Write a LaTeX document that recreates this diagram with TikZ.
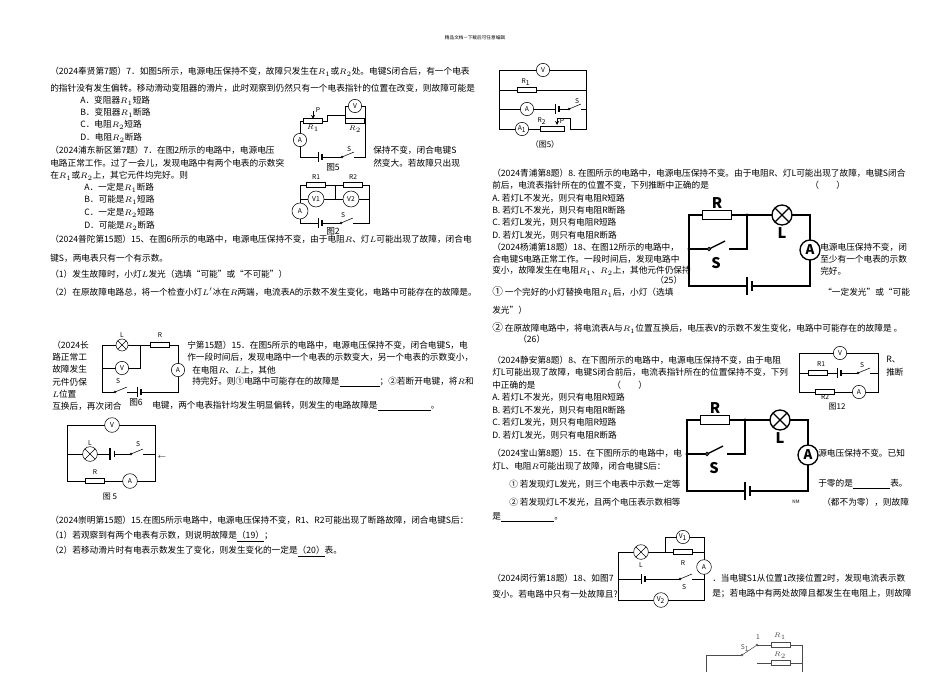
\documentclass[tikz,border=0pt]{standalone}
\usepackage{fontspec}
\setmainfont{Noto Sans CJK SC}
\newfontfamily\cn{Noto Sans CJK SC}
\tikzset{
 txt/.style={anchor=west,inner sep=0pt,font=\fontsize{6.5pt}{7pt}\selectfont},
 lab/.style={inner sep=0pt,font=\fontsize{5pt}{6pt}\selectfont},
 meter/.style={circle,draw,fill=white,inner sep=0pt,minimum size=10pt,font=\fontsize{5pt}{6pt}\selectfont},
 bmeter/.style={circle,draw,line width=1pt,fill=white,inner sep=0pt,minimum size=15pt,font=\bfseries\fontsize{10pt}{10pt}\selectfont},
 res/.style={draw,fill=white,inner sep=0pt,minimum width=14pt,minimum height=4pt},
 bres/.style={draw,line width=1pt,fill=white,inner sep=0pt,minimum width=22pt,minimum height=6.5pt},
 lamp/.style={circle,draw,fill=white,inner sep=0pt,minimum size=#1,path picture={\draw (path picture bounding box.north west)--(path picture bounding box.south east) (path picture bounding box.north east)--(path picture bounding box.south west);}},
 wire/.style={line width=0.5pt},
}
\newcommand\battH[2]{\fill[white] (#1-2,#2-1) rectangle (#1+2,#2+1);
 \draw (#1-2,#2-5)--(#1-2,#2+5); \draw[line width=1.2pt] (#1+2,#2-3)--(#1+2,#2+3);}
\newcommand\swH[2]{\fill[white] (#1-6,#2-1) rectangle (#1+6,#2+1);
 \draw[fill=white] (#1-6,#2) circle (0.9); \draw (#1-6,#2)--(#1+6,#2-5);}
\newcommand\bigckt{%
 \draw[line width=1pt] (689,286)--(689,215)--(810,215)--(810,286)--cycle;
 \draw[line width=1pt] (689,249)--(709,249) (729,249)--(747,249)--(747,215);
 \fill[white] (709,247) rectangle (729,251);
 \draw[line width=1pt] (709,249)--(725,241);
 \draw[line width=0.8pt,fill=white] (709,249) circle (1.6);
 \fill (689,249) circle (1.7) (747,215) circle (1.7);
 \node[bres] at (717,215) {};
 \node[font=\bfseries\itshape\fontsize{11pt}{11pt}\selectfont] at (717,203) {R};
 \node[lamp=15pt,line width=1pt] at (782,215) {};
 \node[font=\bfseries\fontsize{11pt}{11pt}\selectfont] at (782,233) {L};
 \node[font=\bfseries\fontsize{11pt}{11pt}\selectfont] at (716,263) {S};
 \node[bmeter] at (810,250) {A};
 \fill[white] (747,284) rectangle (753,288);
 \draw[line width=1pt] (747,277)--(747,295); \draw[line width=2pt] (752,281)--(752,291);}
\begin{document}
\begin{tikzpicture}[x=0.75pt,y=-0.75pt]
\useasboundingbox[fill=white] (0,0) rectangle (950,672);
% header
\node[lab,font=\fontsize{3.5pt}{4pt}\selectfont] at (475,38) {精品文档---下载后可任意编辑};
% ---------------- left column text
\node[txt] at (50,72) {（2024奉贤第7题）7．如图5所示，电源电压保持不变，故障只发生在$R_1$或$R_2$处。电键S闭合后，有一个电表};
\node[txt] at (50,88) {的指针没有发生偏转。移动滑动变阻器的滑片，此时观察到仍然只有一个电表指针的位置在改变，则故障可能是};
\node[txt] at (80,101) {A．变阻器$R_1$短路};
\node[txt] at (80,113) {B．变阻器$R_1$断路};
\node[txt] at (80,125) {C．电阻$R_2$短路};
\node[txt] at (80,138) {D．电阻$R_2$断路};
\node[txt] at (50,150) {（2024浦东新区第7题）7．在图2所示的电路中，电源电压};
\node[txt] at (373,150) {保持不变，闭合电键S};
\node[txt] at (50,163) {电路正常工作。过了一会儿，发现电路中有两个电表的示数突};
\node[txt] at (373,163) {然变大。若故障只出现};
\node[txt] at (50,176) {在$R_1$或$R_2$上，其它元件均完好。则};
\node[txt] at (84,188) {A．一定是$R_1$断路};
\node[txt] at (84,200) {B．可能是$R_1$短路};
\node[txt] at (84,213) {C．一定是$R_2$短路};
\node[txt] at (84,226) {D．可能是$R_2$断路};
\node[txt] at (50,239) {（2024普陀第15题）15、在图6所示的电路中，电源电压保持不变，由于电阻$R$、灯$L$可能出现了故障，闭合电};
\node[txt] at (50,258) {键S，两电表只有一个有示数。};
\node[txt] at (50,274) {（1）发生故障时，小灯$L$发光（选填“可能”或“不可能”）};
\node[txt] at (50,292) {（2）在原故障电路总，将一个检查小灯$L'$冰在$R$两端，电流表A的示数不发生变化，电路中可能存在的故障是。};
\node[txt] at (52,345) {（2024长};
\node[txt] at (52,357) {路正常工};
\node[txt] at (52,369) {故障发生};
\node[txt] at (52,382) {元件仍保};
\node[txt] at (52,394) {$L$位置};
\node[txt] at (52,406) {互换后，再次闭合};
\node[txt] at (187,345) {宁第15题）15．在图5所示的电路中，电源电压保持不变，闭合电键S，电};
\node[txt] at (187,357) {作一段时间后，发现电路中一个电表的示数变大，另一个电表的示数变小，};
\node[txt] at (192,370) {在电阻$R$、$L$上，其他};
\node[txt] at (192,382) {持完好。则①电路中可能存在的故障是\underline{\hspace{30pt}}；②若断开电键，将$R$和};
\node[txt] at (152,406) {电键，两个电表指针均发生明显偏转，则发生的电路故障是\underline{\hspace{40pt}}。};
\node[txt] at (50,520) {（2024崇明第15题）15.在图5所示电路中，电源电压保持不变，R1、R2可能出现了断路故障，闭合电键S后：};
\node[txt] at (50,537) {（1）若观察到有两个电表有示数，则说明故障是\underline{（19）}；};
\node[txt] at (50,552) {（2）若移动滑片时有电表示数发生了变化，则发生变化的一定是\underline{（20）}表。};
% ---------------- right column text
\node[txt] at (492,173) {（2024青浦第8题）8. 在图所示的电路中，电源电压保持不变。由于电阻R、灯L可能出现了故障，电键S闭合};
\node[txt] at (492,185) {前后，电流表指针所在的位置不变，下列推断中正确的是};
\node[txt] at (810,185) {（\qquad）};
\node[txt] at (492,198) {A. 若灯L不发光，则只有电阻R短路};
\node[txt] at (492,210) {B. 若灯L不发光，则只有电阻R断路};
\node[txt] at (492,222) {C. 若灯L发光，则只有电阻R短路};
\node[txt] at (492,235) {D. 若灯L发光，则只有电阻R断路};
\node[txt] at (492,247) {（2024杨浦第18题）18、在图12所示的电路中，};
\node[txt] at (820,247) {电源电压保持不变，闭};
\node[txt] at (492,259) {合电键S电路正常工作。一段时间后，发现电路中};
\node[txt] at (820,259) {至少有一个电表的示数};
\node[txt] at (492,271) {变小，故障发生在电阻$R_1$、$R_2$上，其他元件仍保持};
\node[txt] at (820,271) {完好。};
\node[txt] at (655,280) {（25）};
\node[txt] at (492,292) {\fontsize{8pt}{8pt}\selectfont ①\fontsize{6.5pt}{7pt}\selectfont\ 一个完好的小灯替换电阻$R_1$后，小灯（选填};
\node[txt] at (823,292) {“一定发光”或“可能};
\node[txt] at (492,310) {发光”）};
\node[txt] at (492,328) {\fontsize{8pt}{8pt}\selectfont ②\fontsize{6.5pt}{7pt}\selectfont\ 在原故障电路中，将电流表A与$R_1$位置互换后，电压表V的示数不发生变化，电路中可能存在的故障是 。};
\node[txt] at (518,339) {（26）};
\node[txt] at (492,360) {（2024静安第8题）8、在下图所示的电路中，电源电压保持不变，由于电阻};
\node[txt] at (886,360) {R、};
\node[txt] at (492,372) {灯L可能出现了故障，电键S闭合前后，电流表指针所在的位置保持不变，下列};
\node[txt] at (886,372) {推断};
\node[txt] at (492,385) {中正确的是};
\node[txt] at (612,385) {（\qquad）};
\node[txt] at (492,397) {A. 若灯L不发光，则只有电阻R短路};
\node[txt] at (492,410) {B. 若灯L不发光，则只有电阻R断路};
\node[txt] at (492,422) {C. 若灯L发光，则只有电阻R短路};
\node[txt] at (492,435) {D. 若灯L发光，则只有电阻R断路};
\node[txt] at (492,453) {（2024宝山第8题）15．在下图所示的电路中，电};
\node[txt] at (818,453) {源电压保持不变。已知};
\node[txt] at (492,466) {灯L、电阻$R$可能出现了故障，闭合电键S后：};
\node[txt] at (509,484) {①\ 若发现灯L发光，则三个电表中示数一定等};
\node[txt] at (818,484) {于零的是\underline{\hspace{28pt}}表。};
\node[txt] at (509,502) {②\ 若发现灯L不发光，且两个电压表示数相等};
\node[lab,font=\fontsize{3.5pt}{4pt}\selectfont] at (796,502) {NM};
\node[txt] at (822,502) {（都不为零），则故障};
\node[txt] at (492,517) {是\underline{\hspace{40pt}}。};
\node[txt] at (492,578) {（2024闵行第18题）18、如图7};
\node[txt] at (712,578) {．当电键S1从位置1改接位置2时，发现电流表示数};
\node[txt] at (492,594) {变小。若电路中只有一处故障且?};
\node[txt] at (712,594) {是；若电路中有两处故障且都发生在电阻上，则故障};
% ---------------- Fig 5 (top left)
\draw (300,157)--(300,121)--(327,121)--(327,115)--(345,115)--(345,106)--(365,106)--(365,157)--cycle;
\draw (345,115)--(345,121)--(365,121);
\node[meter] at (300,140) {A};
\node[res] at (313,121) {};
\draw[-stealth] (313,111)--(313,119);
\node[lab] at (318,110) {P};
\node[lab] at (313,128) {$R_1$};
\node[res] at (355,121) {};
\node[lab] at (355,129) {$R_2$};
\node[meter] at (355,106) {V};
\battH{320}{157} \swH{348}{157}
\node[lab] at (349,149) {S};
\node[lab,font=\fontsize{6.5pt}{7pt}\selectfont] at (333,167) {图5};
% ---------------- Fig 2
\draw (300,223)--(300,185)--(369,185)--(369,223)--cycle;
\draw (300,199)--(369,199) (335,185)--(335,199);
\node[res] at (316,185) {}; \node[lab] at (316,177) {R1};
\node[res] at (353,185) {}; \node[lab] at (353,177) {R2};
\node[meter,minimum size=12pt] at (316,199) {V1};
\node[meter,minimum size=12pt] at (351,199) {V2};
\node[meter,minimum size=12pt] at (300,211) {A};
\battH{320}{223} \swH{347}{223}
\node[lab] at (343,215) {S};
\node[lab,font=\fontsize{6.5pt}{7pt}\selectfont] at (333,231) {图2};
% ---------------- Fig 6
\draw (102,392)--(102,345)--(178,345)--(178,392)--cycle;
\draw (102,368)--(140,368)--(140,345);
\node[lamp=9pt] at (122,345) {}; \node[lab] at (122,335) {L};
\node[res] at (160,345) {}; \node[lab] at (160,335) {R};
\node[meter] at (122,368) {V};
\node[meter] at (178,370) {A};
\swH{121}{392} \battH{139}{392}
\node[lab] at (118,381) {S};
\node[lab,font=\fontsize{6.5pt}{7pt}\selectfont] at (136,402) {图6};
% ---------------- Fig 5 (second)
\draw (67,425)--(155,425)--(155,481)--(67,481)--cycle;
\draw (67,454)--(155,454);
\node[meter,minimum size=11pt] at (112,425) {V};
\node[lamp=11pt] at (90,454) {}; \node[lab,font=\itshape\fontsize{5pt}{6pt}\selectfont] at (90,443) {L};
\fill[white] (110,452) rectangle (114,456);
\draw[line width=1.5pt] (110,448)--(110,460); \draw (114,451)--(114,457);
\swH{137}{454} \node[lab] at (138,444) {S};
\node[res] at (95,481) {}; \node[lab,font=\itshape\fontsize{5pt}{6pt}\selectfont] at (95,472) {R};
\node[meter,minimum size=11pt] at (130,481) {A};
\node[lab] at (162,457) {$\leftarrow$};
\node[lab,font=\fontsize{6pt}{7pt}\selectfont] at (110,497) {图\ 5};
% ---------------- Fig 5 (top right)
\draw (499,70)--(586,70)--(586,129)--(499,129)--cycle;
\draw (499,90)--(586,90) (499,109)--(586,109);
\draw (499,129)--(540,129);
\node[meter] at (543,70) {V};
\node[res] at (527,90) {}; \node[lab] at (526,82) {$\mathrm{R_1}$};
\node[meter] at (527,109) {A};
\battH{557}{109} \swH{575}{109} \node[lab] at (577,101) {S};
\fill[white] (542,127) rectangle (586,131);
\draw (557,118)--(570,118)--(570,129)--(586,129);
\node[res,minimum width=18pt] at (552,129) {};
\draw[-stealth] (557,118)--(557,125);
\node[lab] at (542,121) {$\mathrm{R_2}$}; \node[lab] at (562,121) {P};
\node[meter] at (522,129) {$\mathrm{A_1}$};
\node[lab,font=\fontsize{6pt}{7pt}\selectfont] at (545,144) {（图5）};
% ---------------- big circuits
\bigckt
\begin{scope}[shift={(-2,205)}] \bigckt \end{scope}
% ---------------- Fig 12
\draw (799,353)--(878,353)--(878,392)--(799,392)--cycle;
\draw (799,373)--(878,373);
\node[meter] at (840,353) {V};
\node[res] at (818,373) {}; \node[lab] at (821,364) {R1};
\battH{839}{373} \swH{864}{373} \node[lab] at (862,365) {S};
\node[res] at (825,392) {}; \node[lab] at (825,397) {R2};
\node[meter] at (859,392) {A};
\node[lab,font=\fontsize{6pt}{7pt}\selectfont] at (837,407) {图12};
% ---------------- Fig 7
\draw (618,600)--(618,552)--(704,552)--(704,600)--cycle;
\draw (665,552)--(665,537)--(704,537)--(704,552);
\draw (618,579)--(704,579);
\node[meter] at (683,537) {$\mathrm{V_1}$};
\node[lamp=11pt] at (641,552) {}; \node[lab] at (641,565) {L};
\node[res] at (683,552) {}; \node[lab,font=\itshape\fontsize{5pt}{6pt}\selectfont] at (683,563) {R};
\node[meter,minimum size=11pt] at (704,567) {A};
\battH{643}{579} \swH{686}{579} \node[lab] at (684,587) {S};
\node[meter,minimum size=11pt] at (661,600) {$\mathrm{V_2}$};
% ---------------- bottom partial figure
\begin{scope}[draw=black!70,text=black!70]
\draw (706,672)--(706,655)--(742,655);
\draw (742,655)--(757,645);
\draw[fill=white] (742,655) circle (1);
\draw[fill=white] (757,645) circle (1);
\draw (757,645)--(802,645)--(802,672);
\draw (757,663)--(802,663);
\node[res] at (781,645) {}; \node[lab] at (780,636) {$R_1$};
\node[res] at (781,663) {}; \node[lab] at (780,655) {$R_2$};
\node[lab] at (758,637) {1};
\node[lab] at (745,648) {$\mathrm{S_1}$};
\end{scope}
\end{tikzpicture}
\end{document}
